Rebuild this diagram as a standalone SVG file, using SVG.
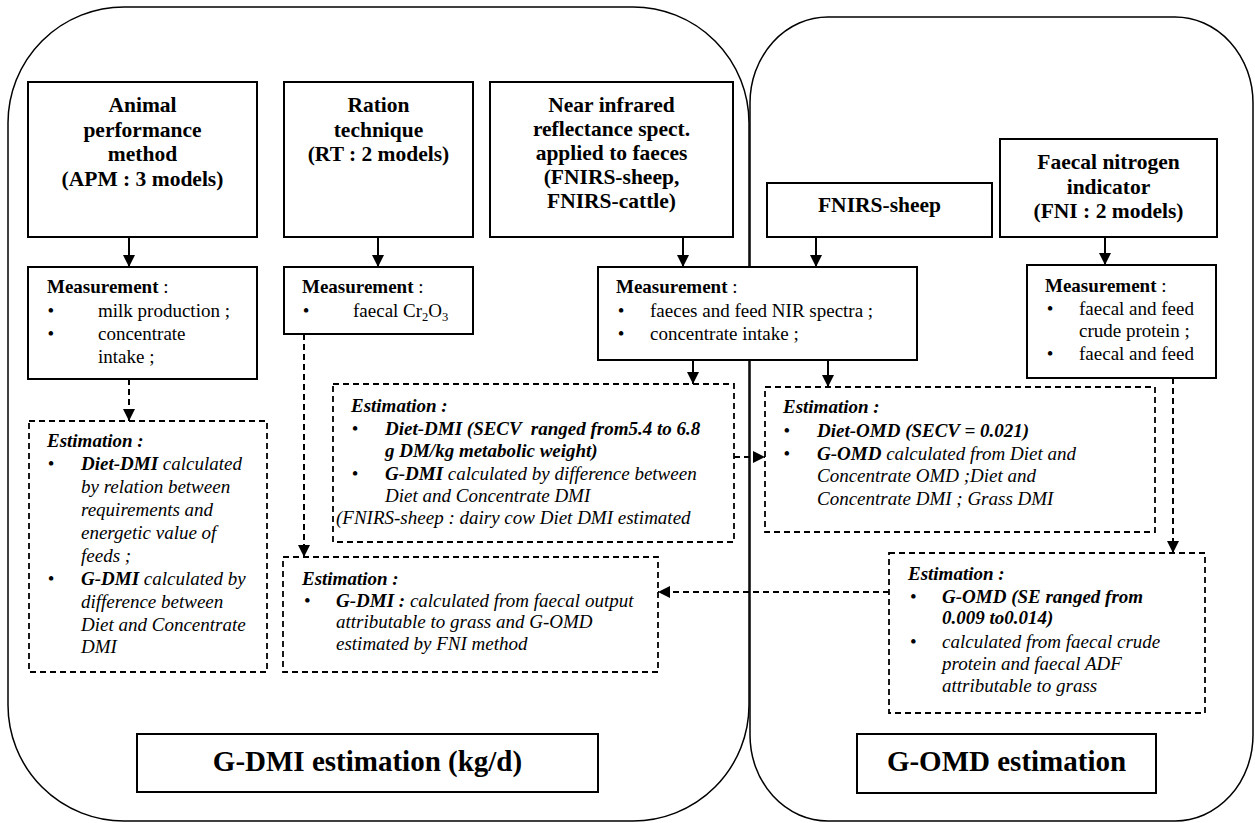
<svg xmlns="http://www.w3.org/2000/svg" width="1255" height="823" viewBox="0 0 1255 823">
<style>
text { font-family: "Liberation Serif", "Times New Roman", serif; fill: #000; }
.h { font-size: 21.5px; font-weight: bold; text-anchor: middle; }
.m { font-size: 19px; }
.e { font-size: 19px; font-style: italic; }
.b { font-weight: bold; }
.big { font-size: 29px; font-weight: bold; text-anchor: middle; }
.box { fill: #fff; stroke: #000; stroke-width: 2; }
.dbox { fill: #fff; stroke: #000; stroke-width: 1.8; stroke-dasharray: 6 4; }
.cont { fill: none; stroke: #000; stroke-width: 1.5; }
.c { fill: none; stroke: #000; stroke-width: 2; }
.d { stroke-dasharray: 6 4; }
</style>
<defs>
<marker id="ah" markerUnits="userSpaceOnUse" markerWidth="12" markerHeight="12" refX="12" refY="6" orient="auto">
<path d="M0,0 L12,6 L0,12 z" fill="#000"/>
</marker>
</defs>

<g id="containers">
<rect id="left-container" class="cont" x="8" y="7" width="741" height="814" rx="116" ry="116"/>
<rect id="right-container" class="cont" x="750" y="17" width="503" height="804" rx="78" ry="86"/>
</g>

<g id="connectors">
<line class="c" x1="129" y1="237" x2="129" y2="267" marker-end="url(#ah)"/>
<line class="c" x1="378" y1="237" x2="378" y2="267" marker-end="url(#ah)"/>
<line class="c" x1="683" y1="237" x2="683" y2="267" marker-end="url(#ah)"/>
<line class="c" x1="816" y1="237" x2="816" y2="267" marker-end="url(#ah)"/>
<line class="c" x1="1105" y1="237" x2="1105" y2="265" marker-end="url(#ah)"/>
<line class="c d" x1="129" y1="379" x2="129" y2="421" marker-end="url(#ah)"/>
<line class="c d" x1="304" y1="334" x2="304" y2="557" marker-end="url(#ah)"/>
<line class="c" x1="693" y1="360" x2="693" y2="384" marker-end="url(#ah)"/>
<line class="c" x1="828" y1="360" x2="828" y2="387" marker-end="url(#ah)"/>
<line class="c d" x1="734" y1="457" x2="765" y2="457" marker-end="url(#ah)"/>
<line class="c d" x1="1173" y1="378" x2="1173" y2="553" marker-end="url(#ah)"/>
<line class="c d" x1="889" y1="592" x2="658" y2="592" marker-end="url(#ah)"/>
</g>

<g id="apm">
<rect class="box" x="28" y="82" width="229" height="155"/>
<text class="h" x="142.5" y="112">Animal</text>
<text class="h" x="142.5" y="136.5">performance</text>
<text class="h" x="142.5" y="161">method</text>
<text class="h" x="142.5" y="185.5">(APM : 3 models)</text>
</g>

<g id="rt">
<rect class="box" x="284" y="82" width="189" height="155"/>
<text class="h" x="378.5" y="112">Ration</text>
<text class="h" x="378.5" y="136.5">technique</text>
<text class="h" x="378.5" y="161">(RT : 2 models)</text>
</g>

<g id="fnirs">
<rect class="box" x="490" y="82" width="243" height="155"/>
<text class="h" x="611.5" y="112">Near infrared</text>
<text class="h" x="611.5" y="136">reflectance spect.</text>
<text class="h" x="611.5" y="160">applied to faeces</text>
<text class="h" x="611.5" y="184">(FNIRS-sheep,</text>
<text class="h" x="611.5" y="208">FNIRS-cattle)</text>
</g>

<g id="fnirs-sheep">
<rect class="box" x="767" y="183" width="225" height="54"/>
<text class="h" x="879.5" y="212">FNIRS-sheep</text>
</g>

<g id="fni">
<rect class="box" x="1000" y="139" width="217" height="98"/>
<text class="h" x="1108.5" y="169">Faecal nitrogen</text>
<text class="h" x="1108.5" y="194">indicator</text>
<text class="h" x="1108.5" y="218">(FNI : 2 models)</text>
</g>

<g id="meas-apm">
<rect class="box" x="28" y="267" width="229" height="112"/>
<text class="m" x="47" y="293"><tspan class="b">Measurement</tspan> :</text>
<text class="m" x="47.4" y="317">•</text>
<text class="m" x="98" y="317">milk production ;</text>
<text class="m" x="47.4" y="340">•</text>
<text class="m" x="98" y="340">concentrate</text>
<text class="m" x="98" y="363">intake ;</text>
</g>

<g id="meas-rt">
<rect class="box" x="284" y="267" width="189" height="67"/>
<text class="m" x="302" y="293"><tspan class="b">Measurement</tspan> :</text>
<text class="m" x="302.7" y="317">•</text>
<text class="m" x="353" y="317">faecal Cr<tspan font-size="12.5" dy="4">2</tspan><tspan dy="-4">O</tspan><tspan font-size="12.5" dy="4">3</tspan></text>
</g>

<g id="meas-fnirs">
<rect class="box" x="598" y="267" width="319" height="93"/>
<text class="m" x="616" y="293"><tspan class="b">Measurement</tspan> :</text>
<text class="m" x="617.7" y="317">•</text>
<text class="m" x="650" y="317">faeces and feed NIR spectra ;</text>
<text class="m" x="617.7" y="340">•</text>
<text class="m" x="650" y="340">concentrate intake ;</text>
</g>

<g id="meas-fni">
<rect class="box" x="1027" y="265" width="189" height="113"/>
<text class="m" x="1045" y="292"><tspan class="b">Measurement</tspan> :</text>
<text class="m" x="1046.7" y="315">•</text>
<text class="m" x="1079" y="315">faecal and feed</text>
<text class="m" x="1079" y="337">crude protein ;</text>
<text class="m" x="1046.7" y="360">•</text>
<text class="m" x="1079" y="360">faecal and feed</text>
</g>

<g id="est-apm">
<rect class="dbox" x="29" y="421" width="238" height="251"/>
<text class="e b" x="47" y="447">Estimation :</text>
<text class="m" x="47.7" y="470">•</text>
<text class="e" x="81" y="470"><tspan class="b">Diet-DMI</tspan> calculated</text>
<text class="e" x="81" y="493">by relation between</text>
<text class="e" x="81" y="516">requirements and</text>
<text class="e" x="81" y="539">energetic value of</text>
<text class="e" x="81" y="562">feeds ;</text>
<text class="m" x="47.7" y="585">•</text>
<text class="e" x="81" y="585"><tspan class="b">G-DMI</tspan> calculated by</text>
<text class="e" x="81" y="608">difference between</text>
<text class="e" x="81" y="631">Diet and Concentrate</text>
<text class="e" x="81" y="653">DMI</text>
</g>

<g id="est-fnirs-dmi">
<rect class="dbox" x="333" y="384" width="401" height="158"/>
<text class="e b" x="351" y="412">Estimation :</text>
<text class="m" x="351.7" y="435">•</text>
<text class="e b" x="385" y="435" style="white-space:pre">Diet-DMI (SECV  ranged from5.4 to 6.8</text>
<text class="e b" x="385" y="457">g DM/kg metabolic weight)</text>
<text class="m" x="351.7" y="480">•</text>
<text class="e" x="385" y="480"><tspan class="b">G-DMI</tspan> calculated by difference between</text>
<text class="e" x="385" y="502">Diet and Concentrate DMI</text>
<text class="e" x="336" y="524">(FNIRS-sheep : dairy cow Diet DMI estimated</text>
</g>

<g id="est-fnirs-omd">
<rect class="dbox" x="765" y="387" width="390" height="145"/>
<text class="e b" x="783" y="413">Estimation :</text>
<text class="m" x="783.4" y="437">•</text>
<text class="e b" x="817" y="437">Diet-OMD (SECV = 0.021)</text>
<text class="m" x="783.4" y="460">•</text>
<text class="e" x="817" y="460"><tspan class="b">G-OMD</tspan> calculated from Diet and</text>
<text class="e" x="817" y="482">Concentrate OMD ;Diet and</text>
<text class="e" x="817" y="505">Concentrate DMI ; Grass DMI</text>
</g>

<g id="est-rt">
<rect class="dbox" x="283" y="557" width="375" height="115"/>
<text class="e b" x="302" y="585">Estimation :</text>
<text class="m" x="304" y="607">•</text>
<text class="e" x="336" y="607"><tspan class="b">G-DMI :</tspan> calculated from faecal output</text>
<text class="e" x="336" y="628">attributable to grass and G-OMD</text>
<text class="e" x="336" y="650">estimated by FNI method</text>
</g>

<g id="est-fni">
<rect class="dbox" x="889" y="553" width="316" height="160"/>
<text class="e b" x="908" y="580">Estimation :</text>
<text class="m" x="910" y="603">•</text>
<text class="e b" x="942" y="603">G-OMD (SE ranged from</text>
<text class="e b" x="942" y="624">0.009 to0.014)</text>
<text class="m" x="910" y="648">•</text>
<text class="e" x="942" y="648">calculated from faecal crude</text>
<text class="e" x="942" y="670">protein and faecal ADF</text>
<text class="e" x="942" y="692">attributable to grass</text>
</g>

<g id="gdmi-title">
<rect class="box" x="137" y="734" width="461" height="58"/>
<text class="big" x="367.5" y="771">G-DMI estimation (kg/d)</text>
</g>

<g id="gomd-title">
<rect class="box" x="857" y="734" width="299" height="59"/>
<text class="big" x="1006.5" y="771">G-OMD estimation</text>
</g>
</svg>
